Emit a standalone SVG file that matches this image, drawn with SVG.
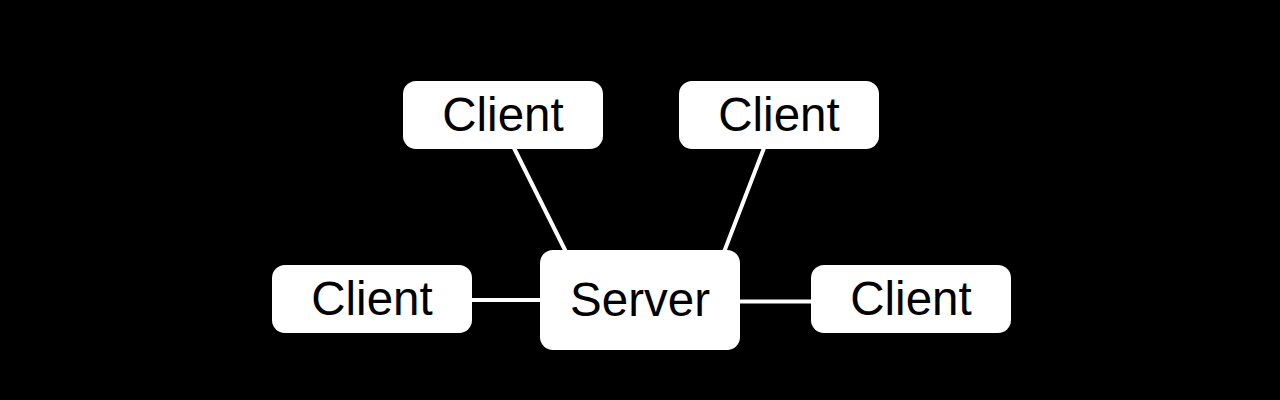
<svg xmlns="http://www.w3.org/2000/svg" width="1280" height="400" viewBox="0 0 1280 400">
<style>
.node rect{fill:#fff;stroke:none}
.node text{font-family:"Liberation Sans",Arial,sans-serif;font-size:47.5px;fill:#000;text-anchor:middle}
.edges line{stroke:#fff;stroke-width:4}
</style>
<rect x="0" y="0" width="1280" height="400" fill="#000"/>
<g id="connectors" class="edges">
<line x1="514" y1="148" x2="566" y2="252"/>
<line x1="764" y1="148" x2="724" y2="252"/>
<line x1="470" y1="300" x2="542" y2="300"/>
<line x1="738" y1="301.5" x2="813" y2="301.5"/>
</g>
<g id="client-top-left" class="node">
<rect x="403" y="81" width="200" height="68" rx="13"/>
<text x="503" y="130.5">Client</text>
</g>
<g id="client-top-right" class="node">
<rect x="679" y="81" width="200" height="68" rx="13"/>
<text x="779" y="130.5">Client</text>
</g>
<g id="client-left" class="node">
<rect x="272" y="265" width="200" height="68" rx="13"/>
<text x="372" y="314.5">Client</text>
</g>
<g id="client-right" class="node">
<rect x="811" y="265" width="200" height="68" rx="13"/>
<text x="911" y="314.5">Client</text>
</g>
<g id="server" class="node">
<rect x="540" y="250" width="200" height="100" rx="13"/>
<text x="640" y="315.5">Server</text>
</g>
</svg>
